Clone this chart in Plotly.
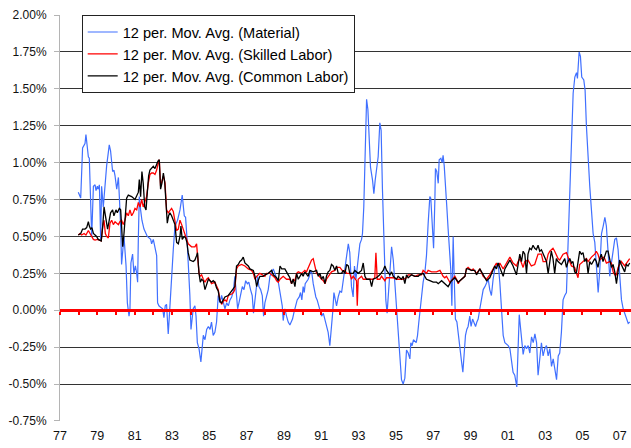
import plotly.graph_objects as go

# ---------------- data ----------------
material_year = [
    1977.98, 1978.11, 1978.21, 1978.34, 1978.39, 1978.52, 1978.57, 1978.70, 1978.79, 1978.88,
    1978.93, 1979.00, 1979.05, 1979.11, 1979.18, 1979.23, 1979.32, 1979.41, 1979.50, 1979.59,
    1979.64, 1979.71, 1979.77, 1979.82, 1979.89, 1979.95, 1980.04, 1980.13, 1980.18, 1980.25,
    1980.30, 1980.36, 1980.43, 1980.54, 1980.61, 1980.70, 1980.75, 1980.80, 1980.89, 1980.96,
    1981.04, 1981.11, 1981.16, 1981.20, 1981.25, 1981.32, 1981.39, 1981.50, 1981.68, 1981.86,
    1981.91, 1982.00, 1982.09, 1982.18, 1982.23, 1982.30, 1982.39, 1982.50, 1982.57, 1982.64,
    1982.71, 1982.80, 1982.86, 1982.93, 1982.98, 1983.07, 1983.16, 1983.30, 1983.43, 1983.55,
    1983.66, 1983.73, 1983.80, 1983.87, 1983.96, 1984.02, 1984.09, 1984.14, 1984.23, 1984.29,
    1984.36, 1984.45, 1984.55, 1984.62, 1984.68, 1984.77, 1984.86, 1984.95, 1985.04, 1985.12,
    1985.21, 1985.30, 1985.39, 1985.48, 1985.57, 1985.66, 1985.75, 1985.84, 1985.93, 1986.02,
    1986.11, 1986.20, 1986.29, 1986.37, 1986.46, 1986.52, 1986.59, 1986.68, 1986.77, 1986.86,
    1986.95, 1987.04, 1987.12, 1987.21, 1987.30, 1987.37, 1987.45, 1987.54, 1987.59, 1987.66,
    1987.75, 1987.84, 1987.91, 1987.98, 1988.07, 1988.16, 1988.25, 1988.34, 1988.43, 1988.52,
    1988.61, 1988.70, 1988.79, 1988.84, 1988.91, 1988.96, 1989.05, 1989.14, 1989.23, 1989.32,
    1989.46, 1989.53, 1989.64, 1989.71, 1989.82, 1989.89, 1989.96, 1990.03, 1990.09, 1990.14,
    1990.30, 1990.36, 1990.43, 1990.50, 1990.57, 1990.64, 1990.71, 1990.78, 1990.86, 1990.93,
    1991.02, 1991.11, 1991.20, 1991.28, 1991.37, 1991.46, 1991.53, 1991.61, 1991.68, 1991.75,
    1991.82, 1991.91, 1992.00, 1992.09, 1992.18, 1992.27, 1992.36, 1992.45, 1992.53, 1992.62,
    1992.71, 1992.78, 1992.86, 1992.93, 1993.00, 1993.07, 1993.16, 1993.21, 1993.28, 1993.36,
    1993.43, 1993.50, 1993.57, 1993.64, 1993.75, 1993.82, 1993.89, 1993.96, 1994.05, 1994.14,
    1994.21, 1994.28, 1994.36, 1994.41, 1994.46, 1994.53, 1994.61, 1994.68, 1994.77, 1994.86,
    1994.95, 1995.03, 1995.12, 1995.21, 1995.30, 1995.39, 1995.48, 1995.57, 1995.66, 1995.75,
    1995.80, 1995.87, 1995.94, 1996.09, 1996.16, 1996.23, 1996.30, 1996.37, 1996.46, 1996.55,
    1996.64, 1996.73, 1996.82, 1996.87, 1996.94, 1997.02, 1997.09, 1997.12, 1997.19, 1997.27,
    1997.32, 1997.41, 1997.48, 1997.53, 1997.59, 1997.66, 1997.73, 1997.80, 1997.87, 1997.94,
    1998.00, 1998.07, 1998.12, 1998.19, 1998.27, 1998.34, 1998.43, 1998.52, 1998.59, 1998.66,
    1998.73, 1998.80, 1998.87, 1998.96, 1999.03, 1999.11, 1999.18, 1999.27, 1999.34, 1999.41,
    1999.50, 1999.59, 1999.68, 1999.77, 1999.86, 1999.95, 2000.03, 2000.12, 2000.21, 2000.30,
    2000.39, 2000.48, 2000.57, 2000.66, 2000.75, 2000.84, 2001.02, 2001.11, 2001.19, 2001.28,
    2001.37, 2001.48, 2001.61, 2001.73, 2001.82, 2001.91, 2002.00, 2002.09, 2002.18, 2002.27,
    2002.36, 2002.45, 2002.54, 2002.62, 2002.71, 2002.80, 2002.89, 2002.98, 2003.07, 2003.16,
    2003.25, 2003.34, 2003.43, 2003.52, 2003.61, 2003.70, 2003.78, 2003.87, 2003.96, 2004.05,
    2004.14, 2004.23, 2004.32, 2004.41, 2004.50, 2004.59, 2004.68, 2004.73, 2004.82, 2004.89,
    2004.96, 2005.07, 2005.14, 2005.21, 2005.30, 2005.39, 2005.48, 2005.57, 2005.66, 2005.75,
    2005.84, 2005.93, 2006.02, 2006.11, 2006.20, 2006.28, 2006.37, 2006.46, 2006.55, 2006.64,
    2006.73, 2006.82, 2006.91, 2007.00, 2007.09, 2007.18, 2007.27, 2007.36, 2007.45, 2007.53,
]
material_val = [
    0.80, 0.76, 1.10, 1.13, 1.19, 1.04, 1.03, 0.50, 0.84, 0.85,
    0.81, 0.84, 0.82, 0.85, 0.48, 0.84, 0.70, 0.86, 0.98, 1.07,
    1.12, 1.08, 1.02, 0.94, 0.95, 0.91, 0.82, 0.90, 0.77, 0.57,
    0.31, 0.43, 0.50, 0.30, 0.05, -0.04, 0.01, 0.32, 0.38, 0.25,
    0.30, 0.25, 0.19, 0.50, 0.77, 0.68, 0.61, 0.55, 0.50, 0.48,
    0.45, 0.48, 0.41, 0.37, 0.05, 0.03, 0.02, 0.01, -0.05, 0.03,
    0.04, -0.16, -0.04, 0.12, 0.28, 0.41, 0.57, 0.61, 0.68, 0.78,
    0.64, 0.63, 0.50, 0.34, 0.10, -0.13, -0.04, 0.01, 0.03, -0.04,
    -0.22, -0.26, -0.35, -0.22, -0.17, -0.20, -0.13, -0.11, -0.13, -0.08,
    -0.17, -0.15, -0.08, 0.10, 0.05, 0.10, 0.05, 0.01, 0.05, 0.03,
    0.07, 0.09, 0.13, 0.23, 0.10, 0.01, 0.05, 0.11, 0.16, 0.14,
    0.20, 0.18, 0.19, 0.14, 0.10, -0.02, 0.06, 0.16, 0.23, 0.16,
    0.14, 0.10, -0.04, 0.05, 0.10, 0.14, 0.23, 0.25, 0.28, 0.25,
    0.21, 0.19, 0.13, 0.10, 0.03, -0.07, 0.01, -0.04, -0.08, -0.10,
    -0.06, -0.02, 0.03, 0.07, 0.09, 0.12, 0.07, 0.16, 0.12, 0.18,
    0.21, 0.23, 0.27, 0.25, 0.18, 0.12, 0.09, 0.07, 0.03, 0.00,
    -0.04, -0.02, -0.06, -0.11, -0.15, -0.24, -0.15, -0.02, 0.12, 0.07,
    0.03, 0.09, 0.13, 0.12, 0.21, 0.30, 0.39, 0.45, 0.39, 0.16,
    0.09, 0.30, 0.21, 0.30, 0.41, 0.45, 0.48, 0.52, 0.70, 1.11,
    1.43, 1.36, 1.15, 0.97, 0.88, 0.79, 0.88, 0.95, 1.04, 1.27,
    1.22, 0.82, 0.48, 0.16, 0.07, -0.02, 0.12, 0.30, 0.43, 0.34,
    0.16, 0.05, -0.15, -0.33, -0.47, -0.50, -0.46, -0.27, -0.29, -0.33,
    -0.22, -0.24, -0.20, -0.22, -0.17, -0.08, 0.01, 0.10, 0.19, 0.25,
    0.37, 0.59, 0.77, 0.76, 0.61, 0.42, 0.75, 0.96, 0.94, 0.86,
    1.02, 1.03, 1.00, 1.05, 0.98, 0.86, 0.70, 0.55, 0.43, 0.28,
    0.03, 0.50, 0.25, -0.06, -0.08, -0.17, -0.26, -0.35, -0.42, -0.31,
    -0.17, -0.13, -0.11, -0.04, -0.11, -0.06, -0.08, -0.11, -0.08, -0.06,
    0.01, 0.07, 0.14, 0.16, 0.19, 0.21, 0.14, 0.10, 0.21, 0.28,
    0.30, 0.32, 0.19, 0.01, -0.17, -0.22, -0.24, -0.26, -0.35, -0.42,
    -0.44, -0.52, -0.03, -0.22, -0.30, -0.24, -0.26, -0.24, -0.29, -0.18,
    -0.22, -0.16, -0.22, -0.44, -0.35, -0.22, -0.31, -0.26, -0.24, -0.31,
    -0.26, -0.38, -0.33, -0.40, -0.47, -0.31, -0.29, -0.15, 0.07, 0.10,
    0.12, 0.46, 0.80, 1.13, 1.47, 1.58, 1.61, 1.57, 1.75, 1.72,
    1.58, 1.56, 1.49, 1.25, 1.02, 0.84, 0.68, 0.52, 0.46, 0.32,
    0.12, 0.28, 0.52, 0.57, 0.63, 0.57, 0.39, 0.23, 0.32, 0.41,
    0.48, 0.49, 0.41, 0.23, 0.07, 0.01, -0.02, -0.06, -0.09, -0.08,
]

skilled_year = [
    1977.98, 1978.07, 1978.16, 1978.29, 1978.39, 1978.52, 1978.61, 1978.70, 1978.79, 1978.88,
    1979.00, 1979.11, 1979.21, 1979.29, 1979.36, 1979.43, 1979.50, 1979.59, 1979.68, 1979.77,
    1979.86, 1979.95, 1980.04, 1980.13, 1980.21, 1980.30, 1980.39, 1980.48, 1980.57, 1980.66,
    1980.75, 1980.84, 1980.93, 1981.02, 1981.11, 1981.20, 1981.29, 1981.38, 1981.46, 1981.55,
    1981.64, 1981.73, 1981.82, 1981.91, 1982.00, 1982.09, 1982.18, 1982.27, 1982.32, 1982.39,
    1982.46, 1982.54, 1982.63, 1982.71, 1982.80, 1982.89, 1982.98, 1983.07, 1983.16, 1983.25,
    1983.34, 1983.43, 1983.52, 1983.61, 1983.70, 1983.79, 1983.87, 1984.05, 1984.23, 1984.32,
    1984.37, 1984.45, 1984.50, 1984.59, 1984.68, 1984.77, 1984.86, 1984.95, 1985.04, 1985.12,
    1985.30, 1985.39, 1985.48, 1985.57, 1985.66, 1985.75, 1985.84, 1985.93, 1986.02, 1986.20,
    1986.29, 1986.37, 1986.46, 1986.55, 1986.73, 1986.91, 1987.09, 1987.27, 1987.36, 1987.45,
    1987.54, 1987.71, 1987.89, 1987.98, 1988.07, 1988.25, 1988.43, 1988.52, 1988.61, 1988.70,
    1988.79, 1988.96, 1989.14, 1989.32, 1989.41, 1989.50, 1989.59, 1989.68, 1989.77, 1989.95,
    1990.03, 1990.12, 1990.21, 1990.30, 1990.39, 1990.48, 1990.57, 1990.66, 1990.75, 1990.84,
    1990.93, 1991.02, 1991.11, 1991.20, 1991.28, 1991.37, 1991.46, 1991.55, 1991.73, 1991.82,
    1992.00, 1992.09, 1992.18, 1992.27, 1992.36, 1992.53, 1992.62, 1992.71, 1992.86, 1992.89,
    1992.93, 1992.98, 1993.16, 1993.25, 1993.43, 1993.61, 1993.78, 1993.87, 1993.93, 1994.00,
    1994.14, 1994.23, 1994.41, 1994.50, 1994.68, 1994.86, 1995.03, 1995.21, 1995.39, 1995.57,
    1995.66, 1995.84, 1996.02, 1996.20, 1996.37, 1996.46, 1996.64, 1996.73, 1996.91, 1997.18,
    1997.36, 1997.45, 1997.53, 1997.62, 1997.71, 1997.80, 1997.89, 1997.98, 1998.07, 1998.16,
    1998.25, 1998.34, 1998.43, 1998.61, 1998.70, 1998.78, 1998.87, 1999.05, 1999.14, 1999.32,
    1999.50, 1999.68, 1999.86, 2000.03, 2000.21, 2000.30, 2000.39, 2000.48, 2000.57, 2000.66,
    2000.75, 2000.84, 2000.93, 2001.11, 2001.28, 2001.46, 2001.55, 2001.64, 2001.82, 2001.91,
    2002.08, 2002.26, 2002.44, 2002.62, 2002.80, 2002.89, 2003.07, 2003.16, 2003.25, 2003.42,
    2003.51, 2003.69, 2003.78, 2003.96, 2004.14, 2004.23, 2004.32, 2004.41, 2004.58, 2004.67,
    2004.76, 2004.85, 2005.03, 2005.21, 2005.30, 2005.48, 2005.66, 2005.74, 2005.83, 2005.92,
    2006.10, 2006.19, 2006.28, 2006.46, 2006.55, 2006.64, 2006.73, 2006.82, 2006.91, 2007.08,
    2007.26, 2007.44, 2007.53,
]
skilled_val = [
    0.51, 0.52, 0.51, 0.52, 0.51, 0.54, 0.52, 0.50, 0.48, 0.475,
    0.48, 0.475, 0.47, 0.57, 0.61, 0.52, 0.50, 0.49, 0.59, 0.61,
    0.58, 0.60, 0.59, 0.58, 0.60, 0.61, 0.58, 0.61, 0.66, 0.64,
    0.68, 0.64, 0.66, 0.69, 0.68, 0.73, 0.70, 0.75, 0.70, 0.73,
    0.77, 0.86, 0.92, 0.93, 0.93, 0.92, 0.95, 1.00, 1.02, 0.84,
    0.87, 0.91, 0.86, 0.68, 0.66, 0.68, 0.69, 0.67, 0.61, 0.54,
    0.55, 0.61, 0.58, 0.55, 0.52, 0.48, 0.45, 0.43, 0.43, 0.45,
    0.35, 0.25, 0.23, 0.24, 0.21, 0.19, 0.21, 0.22, 0.20, 0.18,
    0.19, 0.16, 0.14, 0.07, 0.04, 0.06, 0.07, 0.06, 0.10, 0.11,
    0.12, 0.14, 0.28, 0.30, 0.31, 0.30, 0.28, 0.27, 0.25, 0.21,
    0.23, 0.25, 0.24, 0.23, 0.25, 0.25, 0.23, 0.22, 0.20, 0.19,
    0.21, 0.23, 0.21, 0.21, 0.18, 0.21, 0.20, 0.25, 0.26, 0.25,
    0.26, 0.27, 0.26, 0.29, 0.32, 0.34, 0.35, 0.30, 0.25, 0.24,
    0.22, 0.21, 0.20, 0.18, 0.21, 0.23, 0.24, 0.26, 0.27, 0.29,
    0.29, 0.27, 0.26, 0.27, 0.25, 0.25, 0.21, 0.23, 0.21, 0.20,
    0.03, 0.21, 0.23, 0.21, 0.21, 0.21, 0.21, 0.22, 0.39, 0.21,
    0.21, 0.23, 0.20, 0.22, 0.22, 0.22, 0.21, 0.21, 0.21, 0.22,
    0.24, 0.24, 0.23, 0.24, 0.24, 0.27, 0.25, 0.27, 0.26, 0.26,
    0.27, 0.25, 0.23, 0.22, 0.23, 0.21, 0.19, 0.20, 0.22, 0.23,
    0.21, 0.18, 0.20, 0.22, 0.23, 0.28, 0.29, 0.27, 0.28, 0.25,
    0.28, 0.23, 0.21, 0.24, 0.28, 0.31, 0.32, 0.30, 0.32, 0.30,
    0.28, 0.30, 0.32, 0.36, 0.32, 0.30, 0.33, 0.35, 0.29, 0.33,
    0.34, 0.30, 0.31, 0.38, 0.38, 0.33, 0.33, 0.38, 0.40, 0.42,
    0.40, 0.35, 0.34, 0.38, 0.39, 0.36, 0.33, 0.30, 0.29, 0.25,
    0.22, 0.31, 0.33, 0.35, 0.33, 0.36, 0.38, 0.40, 0.38, 0.34,
    0.36, 0.35, 0.32, 0.33, 0.32, 0.26, 0.24, 0.24, 0.29, 0.33,
    0.30, 0.34, 0.35,
]

common_year = [
    1977.98, 1978.11, 1978.21, 1978.34, 1978.43, 1978.52, 1978.57, 1978.64, 1978.71, 1978.79,
    1978.88, 1978.96, 1979.05, 1979.14, 1979.21, 1979.29, 1979.36, 1979.41, 1979.50, 1979.55,
    1979.64, 1979.71, 1979.82, 1979.89, 1980.00, 1980.07, 1980.18, 1980.25, 1980.30, 1980.36,
    1980.43, 1980.50, 1980.57, 1980.66, 1980.84, 1981.02, 1981.11, 1981.20, 1981.25, 1981.32,
    1981.39, 1981.46, 1981.54, 1981.61, 1981.68, 1981.75, 1981.82, 1982.00, 1982.09, 1982.18,
    1982.25, 1982.32, 1982.39, 1982.46, 1982.54, 1982.61, 1982.68, 1982.75, 1982.82, 1982.89,
    1982.98, 1983.07, 1983.16, 1983.25, 1983.34, 1983.43, 1983.48, 1983.55, 1983.66, 1983.73,
    1983.80, 1983.87, 1983.96, 1984.14, 1984.23, 1984.32, 1984.37, 1984.45, 1984.52, 1984.59,
    1984.68, 1984.77, 1984.86, 1984.95, 1985.04, 1985.12, 1985.21, 1985.30, 1985.39, 1985.48,
    1985.57, 1985.66, 1985.75, 1985.84, 1986.02, 1986.20, 1986.37, 1986.46, 1986.55, 1986.64,
    1986.73, 1986.82, 1986.91, 1987.00, 1987.09, 1987.18, 1987.36, 1987.45, 1987.54, 1987.62,
    1987.71, 1987.89, 1987.98, 1988.16, 1988.34, 1988.43, 1988.52, 1988.61, 1988.70, 1988.79,
    1988.88, 1989.05, 1989.23, 1989.32, 1989.41, 1989.50, 1989.59, 1989.68, 1989.77, 1989.86,
    1989.95, 1990.03, 1990.12, 1990.30, 1990.39, 1990.57, 1990.75, 1990.84, 1990.93, 1991.02,
    1991.11, 1991.20, 1991.28, 1991.37, 1991.46, 1991.55, 1991.64, 1991.73, 1991.82, 1991.91,
    1992.09, 1992.18, 1992.27, 1992.36, 1992.45, 1992.53, 1992.71, 1992.80, 1992.98, 1993.16,
    1993.25, 1993.34, 1993.43, 1993.61, 1993.70, 1993.78, 1993.96, 1994.14, 1994.32, 1994.41,
    1994.50, 1994.68, 1994.77, 1994.86, 1995.03, 1995.12, 1995.30, 1995.39, 1995.48, 1995.57,
    1995.66, 1995.84, 1996.02, 1996.20, 1996.28, 1996.46, 1996.55, 1996.64, 1996.82, 1997.00,
    1997.18, 1997.27, 1997.45, 1997.62, 1997.80, 1997.98, 1998.16, 1998.34, 1998.52, 1998.70,
    1998.78, 1998.87, 1999.05, 1999.23, 1999.32, 1999.50, 1999.68, 1999.86, 2000.03, 2000.21,
    2000.30, 2000.39, 2000.48, 2000.57, 2000.75, 2000.84, 2001.02, 2001.11, 2001.28, 2001.46,
    2001.55, 2001.64, 2001.73, 2001.82, 2001.91, 2002.00, 2002.08, 2002.17, 2002.26, 2002.35,
    2002.44, 2002.53, 2002.62, 2002.71, 2002.80, 2002.89, 2002.98, 2003.07, 2003.16, 2003.25,
    2003.33, 2003.42, 2003.51, 2003.60, 2003.69, 2003.87, 2003.96, 2004.05, 2004.14, 2004.23,
    2004.32, 2004.41, 2004.49, 2004.58, 2004.67, 2004.76, 2004.85, 2004.94, 2005.03, 2005.12,
    2005.21, 2005.30, 2005.39, 2005.48, 2005.66, 2005.74, 2005.83, 2005.92, 2006.01, 2006.10,
    2006.19, 2006.28, 2006.37, 2006.46, 2006.55, 2006.64, 2006.73, 2006.82, 2006.91, 2006.99,
    2007.08, 2007.17, 2007.26, 2007.35, 2007.44, 2007.53,
]
common_val = [
    0.51, 0.52, 0.55, 0.55, 0.56, 0.60, 0.57, 0.55, 0.56, 0.52,
    0.51, 0.50, 0.48, 0.475, 0.47, 0.57, 0.70, 0.66, 0.59, 0.55,
    0.61, 0.66, 0.68, 0.64, 0.68, 0.66, 0.69, 0.68, 0.57, 0.43,
    0.52, 0.68, 0.76, 0.78, 0.77, 0.75, 0.77, 0.80, 0.885, 0.77,
    0.94, 0.86, 0.70, 0.68, 0.80, 0.91, 0.95, 0.975, 0.96, 0.99,
    1.01, 1.02, 0.82, 0.86, 0.93, 0.87, 0.70, 0.59, 0.64, 0.66,
    0.64, 0.61, 0.58, 0.46, 0.45, 0.50, 0.57, 0.48, 0.50, 0.49,
    0.46, 0.39, 0.34, 0.33, 0.34, 0.37, 0.39, 0.25, 0.19, 0.21,
    0.20, 0.14, 0.18, 0.21, 0.20, 0.19, 0.20, 0.19, 0.15, 0.13,
    0.06, 0.05, 0.07, 0.09, 0.10, 0.13, 0.16, 0.30, 0.31, 0.33,
    0.34, 0.36, 0.32, 0.31, 0.30, 0.28, 0.27, 0.23, 0.16, 0.20,
    0.23, 0.23, 0.24, 0.25, 0.27, 0.24, 0.23, 0.22, 0.20, 0.30,
    0.28, 0.28, 0.24, 0.22, 0.18, 0.21, 0.16, 0.25, 0.21, 0.23,
    0.25, 0.23, 0.26, 0.23, 0.27, 0.26, 0.27, 0.23, 0.25, 0.21,
    0.23, 0.18, 0.23, 0.26, 0.27, 0.31, 0.30, 0.27, 0.30, 0.25,
    0.25, 0.27, 0.25, 0.31, 0.30, 0.25, 0.25, 0.27, 0.25, 0.27,
    0.32, 0.23, 0.21, 0.21, 0.16, 0.21, 0.22, 0.24, 0.27, 0.30,
    0.27, 0.24, 0.26, 0.23, 0.21, 0.23, 0.21, 0.23, 0.18, 0.24,
    0.22, 0.24, 0.23, 0.23, 0.24, 0.25, 0.23, 0.21, 0.20, 0.19,
    0.19, 0.18, 0.20, 0.18, 0.16, 0.20, 0.22, 0.19, 0.21, 0.23,
    0.28, 0.28, 0.27, 0.27, 0.24, 0.28, 0.24, 0.20, 0.22, 0.27,
    0.30, 0.28, 0.32, 0.29, 0.23, 0.28, 0.32, 0.34, 0.30, 0.24,
    0.31, 0.38, 0.33, 0.40, 0.38, 0.25, 0.38, 0.42, 0.41, 0.44,
    0.42, 0.41, 0.44, 0.40, 0.41, 0.38, 0.35, 0.33, 0.25, 0.33,
    0.40, 0.35, 0.25, 0.35, 0.33, 0.31, 0.33, 0.35, 0.29, 0.33,
    0.35, 0.32, 0.33, 0.26, 0.25, 0.33, 0.40, 0.38, 0.39, 0.33,
    0.35, 0.25, 0.33, 0.31, 0.35, 0.33, 0.29, 0.35, 0.38, 0.33,
    0.36, 0.40, 0.40, 0.35, 0.29, 0.31, 0.26, 0.18, 0.29, 0.34,
    0.31, 0.29, 0.26, 0.31, 0.30, 0.32,
]

x_tick_years = [1977, 1979, 1981, 1983, 1985, 1987, 1989, 1991, 1993, 1995,
                1997, 1999, 2001, 2003, 2005, 2007]
x_tick_labels = ['77', '79', '81', '83', '85', '87', '89', '91', '93', '95',
                 '97', '99', '01', '03', '05', '07']
y_ticks = [-0.75, -0.5, -0.25, 0.0, 0.25, 0.5, 0.75, 1.0, 1.25, 1.5, 1.75, 2.0]
y_labels = ['-0.75%', '-0.50%', '-0.25%', '0.00%', '0.25%', '0.50%', '0.75%',
            '1.00%', '1.25%', '1.50%', '1.75%', '2.00%']

series_names = ['12 per. Mov. Avg. (Material)',
                '12 per. Mov. Avg. (Skilled Labor)',
                '12 per. Mov. Avg. (Common Labor)']

# ---------------- figure ----------------
X_RANGE = [1977.0, 2007.6]
Y_RANGE = [-0.7505, 2.0005]

fig = go.Figure()
fig.add_trace(go.Scatter(x=material_year, y=material_val, mode='lines',
                         name=series_names[0], legendgroup='a',
                         line=dict(color='#4070ff', width=1.2)))
fig.add_trace(go.Scatter(x=skilled_year, y=skilled_val, mode='lines',
                         name=series_names[1], legendgroup='b',
                         line=dict(color='#ff0000', width=1.3)))
fig.add_trace(go.Scatter(x=common_year, y=common_val, mode='lines',
                         name=series_names[2], legendgroup='c',
                         line=dict(color='#000000', width=1.3)))
# carrier for the red category axis that crosses at 0 %
fig.add_trace(go.Scatter(x=[], y=[], xaxis='x2', showlegend=False, hoverinfo='skip'))

zero_pos = (0 - Y_RANGE[0]) / (Y_RANGE[1] - Y_RANGE[0])

fig.update_layout(
    width=631, height=448,
    margin=dict(l=60, r=0, t=15, b=27),
    paper_bgcolor='white', plot_bgcolor='white',
    font=dict(family='Liberation Sans, Arial, sans-serif', size=12, color='#111'),
    showlegend=True,
    legend=dict(x=0.038, y=1.0, xanchor='left', yanchor='top',
                bgcolor='white', bordercolor='#222', borderwidth=1,
                font=dict(size=14.6, color='#000'), tracegroupgap=0,
                itemwidth=30, traceorder='grouped'),
    xaxis=dict(range=X_RANGE, tickmode='array', tickvals=x_tick_years,
               ticktext=x_tick_labels, showgrid=False, showline=False,
               zeroline=False, ticks='', ticklabelstandoff=5,
               tickfont=dict(size=12.5, color='#111')),
    xaxis2=dict(overlaying='x', anchor='free', position=zero_pos, side='bottom',
                range=X_RANGE, showline=True, linecolor='#ff0000', linewidth=3,
                ticks='outside', tickcolor='#ff0000', tickwidth=2, ticklen=3,
                tick0=1977, dtick=1, showticklabels=False, showgrid=False,
                zeroline=False),
    yaxis=dict(range=Y_RANGE, tickmode='array', tickvals=y_ticks, ticktext=y_labels,
               showgrid=True, gridcolor='#333333', gridwidth=1,
               showline=True, linecolor='#b4b4b4', linewidth=1,
               ticks='outside', ticklen=5, tickcolor='#b4b4b4',
               zeroline=False, ticklabelstandoff=5,
               tickfont=dict(size=12, color='#111')),
)

fig.write_html('out.html', config={'displayModeBar': False},
               post_script="document.body.style.margin='0px';document.body.style.overflow='hidden';")
